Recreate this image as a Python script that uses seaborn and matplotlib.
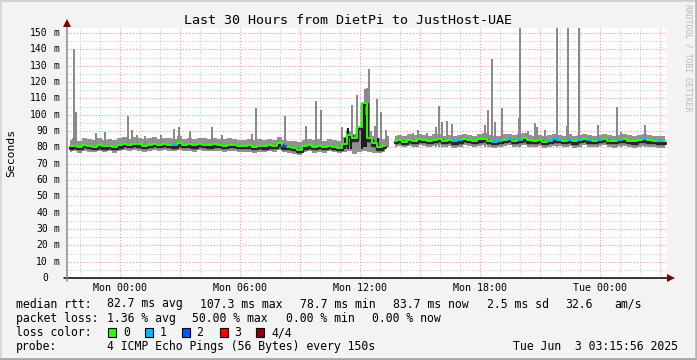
import numpy as np
import pandas as pd
import matplotlib
matplotlib.use("Agg")
import matplotlib.pyplot as plt
import matplotlib.transforms as mtransforms
from matplotlib.patches import Rectangle
from matplotlib.lines import Line2D
import seaborn as sns

# ---------------- data ----------------
title = "Last 30 Hours from DietPi to JustHost-UAE"
x_tick_hours = [0, 6, 12, 18, 24]
x_tick_labels = ["Mon 00:00", "Mon 06:00", "Mon 12:00", "Mon 18:00", "Tue 00:00"]
y_tick_values = [0, 10, 20, 30, 40, 50, 60, 70, 80, 90, 100, 110, 120, 130, 140, 150]
y_tick_numbers = ["0", "10", "20", "30", "40", "50", "60", "70", "80", "90",
                  "100", "110", "120", "130", "140", "150"]

# 15-minute bins, hours relative to Mon 00:00
bin_start = -2.65
bin_hours = 0.25
nan = float("nan")

median_ms = [
    80.6, 81.0, 80.3, 81.4, 80.8, 80.4, 81.2, 80.7, 81.0, 80.4,
    81.3, 82.0, 81.6, 82.3, 81.8, 81.1, 81.7, 82.2, 81.4, 82.0,
    81.7, 81.3, 82.4, 81.5, 81.8, 81.2, 82.0, 81.6, 81.3, 81.8,
    81.5, 81.1, 81.7, 81.4, 81.0, 80.8, 81.2, 80.5, 81.0, 80.6,
    81.3, 80.9, 82.5, 80.7, 80.2, 79.5, 78.7, 80.6, 81.2, 80.4,
    81.0, 80.2, 81.1, 80.5, 79.8, 82.0, 87.5, 85.5, 92.5, 107.3,
    85.5, 82.4, 80.0, 80.8, nan, 83.8, 84.4, 83.6, 84.8, 84.2,
    85.0, 84.5, 83.9, 84.7, 85.3, 84.1, 84.6, 83.7, 84.3, 85.1,
    84.4, 83.8, 84.9, 85.4, 84.2, 83.5, 84.0, 84.8, 85.2, 84.1,
    84.7, 85.5, 84.3, 83.9, 84.6, 83.6, 84.2, 85.0, 84.5, 84.0,
    84.8, 83.7, 84.4, 85.1, 84.3, 83.9, 84.6, 85.2, 84.1, 83.8,
    84.5, 84.9, 84.2, 83.7, 84.4, 85.0, 84.3, 83.9, 83.7, 83.7,
]
smoke_hi = [
    84.5, 85.5, 84.0, 86.0, 85.0, 84.5, 85.5, 84.8, 85.2, 84.6,
    85.8, 86.5, 85.4, 86.2, 85.6, 85.0, 85.8, 86.4, 85.2, 86.0,
    85.6, 85.2, 86.8, 85.4, 85.8, 85.0, 86.0, 85.5, 85.2, 85.8,
    85.3, 84.9, 85.6, 85.2, 84.8, 84.6, 85.2, 84.4, 85.0, 84.6,
    85.2, 84.8, 86.5, 84.5, 84.2, 83.8, 83.5, 84.6, 85.2, 84.3,
    85.0, 84.2, 85.0, 84.5, 84.0, 86.5, 90.0, 88.0, 93.0, 96.0,
    90.0, 87.0, 85.5, 85.0, nan, 86.8, 87.5, 86.8, 88.0, 87.4,
    88.2, 87.6, 87.0, 88.0, 88.5, 87.2, 87.8, 86.9, 87.5, 88.2,
    87.6, 87.0, 88.0, 88.6, 87.4, 86.8, 87.2, 88.0, 88.4, 87.3,
    87.9, 88.6, 87.5, 87.1, 87.8, 86.8, 87.4, 88.2, 87.7, 87.2,
    88.0, 86.9, 87.6, 88.3, 87.5, 87.1, 87.8, 88.4, 87.3, 87.0,
    87.7, 88.1, 87.4, 86.9, 87.6, 88.2, 87.5, 87.1, 86.9, 86.9,
]
smoke_lo = [
    77.2, 77.6, 76.8, 77.8, 77.3, 76.9, 77.6, 77.1, 77.5, 76.8,
    77.7, 78.2, 77.9, 78.4, 78.0, 77.4, 77.9, 78.3, 77.6, 78.1,
    77.8, 77.5, 78.5, 77.7, 78.0, 77.4, 78.2, 77.8, 77.5, 78.0,
    77.7, 77.3, 77.9, 77.6, 77.2, 77.0, 77.4, 76.8, 77.3, 76.9,
    77.6, 77.2, 78.4, 77.0, 76.6, 76.0, 75.6, 77.0, 77.5, 76.8,
    77.4, 76.6, 77.5, 76.9, 76.3, 77.0, 77.5, 76.0, 77.2, 77.5,
    77.0, 76.8, 76.5, 77.2, nan, 80.2, 80.8, 80.0, 81.0, 80.4,
    81.2, 80.7, 80.1, 80.9, 81.4, 80.2, 80.8, 79.9, 80.5, 81.2,
    80.6, 80.0, 81.0, 81.5, 80.4, 79.7, 80.2, 80.9, 81.3, 80.3,
    80.8, 81.5, 80.5, 80.0, 80.7, 79.8, 80.4, 81.1, 80.6, 80.1,
    80.9, 79.8, 80.5, 81.2, 80.4, 80.0, 80.7, 81.3, 80.2, 79.9,
    80.6, 81.0, 80.3, 79.8, 80.5, 81.1, 80.4, 80.0, 79.8, 79.8,
]
loss_count = [
    0, 0, 0, 0, 0, 0, 0, 0, 0, 0,
    0, 0, 0, 0, 0, 0, 0, 0, 0, 0,
    0, 1, 0, 0, 0, 0, 0, 0, 0, 0,
    0, 0, 0, 0, 0, 0, 0, 0, 0, 0,
    0, 0, 0, 2, 0, 0, 0, 0, 0, 0,
    0, 0, 0, 0, 0, 0, 0, 0, 0, 0,
    0, 0, 0, 0, 0, 0, 0, 0, 0, 0,
    0, 0, 0, 0, 0, 0, 0, 1, 1, 0,
    0, 0, 0, 0, 0, 1, 1, 0, 1, 0,
    1, 0, 0, 0, 0, 0, 1, 1, 1, 0,
    1, 0, 1, 0, 1, 0, 1, 0, 0, 0,
    1, 0, 0, 0, 0, 1, 0, 0, 1, 0,
]

# thin smoke spikes (max ping of a sample): hour, top in ms
spike_hour = [-2.325, -2.225, -1.225, -0.735, 0.415, 0.575, 0.835, 1.25, 1.65, 2.035,
              2.685, 2.95, 3.515, 4.585, 5.085, 6.585, 6.785, 8.265, 9.275, 9.775,
              10.035, 11.085, 11.335, 11.415, 11.585, 11.835, 12.085, 12.25, 12.335, 12.425,
              12.75, 12.835, 13.035, 13.285, 13.415, 14.665, 14.915, 15.335, 15.785, 15.95,
              16.115, 16.365, 16.575, 17.085, 18.25, 18.415, 18.585, 18.75, 19.085, 19.95,
              20.0, 20.385, 20.75, 20.835, 21.25, 21.835, 22.335, 22.415, 22.925, 23.915,
              24.835, 25.05, 26.225]
spike_top = [140.2, 101.5, 88.8, 89.6, 99.2, 90.6, 87.6, 87.0, 86.5, 87.6,
             91.2, 92.5, 90.0, 92.5, 87.6, 88.2, 104.3, 99.2, 93.2, 108.4,
             102.9, 92.6, 90.6, 92.0, 106.0, 112.0, 101.6, 116.0, 116.5, 128.2,
             93.3, 109.6, 101.6, 90.6, 87.0, 88.6, 90.6, 88.6, 92.7, 105.4,
             95.8, 96.2, 94.5, 87.6, 93.7, 102.6, 134.2, 95.3, 104.3, 98.0,
             160.0, 90.0, 94.7, 92.3, 90.6, 160.0, 93.0, 160.0, 160.0, 93.7,
             104.9, 89.2, 93.5]

# dark (dense) smoke near noon
dark_hour = [11.25, 11.415, 11.55, 12.085, 12.215, 12.3, 12.9]
dark_low = [79.0, 79.0, 79.0, 79.0, 80.0, 80.0, 79.0]
dark_top = [86.0, 91.6, 88.0, 92.7, 107.0, 100.0, 86.0]

stats_rows = [
    ["median rtt:", "82.7 ms avg", "107.3 ms max", "78.7 ms min", "83.7 ms now", "2.5 ms sd", "32.6", "am/s"],
    ["packet loss:", "1.36 % avg", "50.00 % max", "0.00 % min", "0.00 % now"],
]
loss_labels = ["0", "1", "2", "3", "4/4"]
loss_colors = ["#26ff00", "#00b8ff", "#0059ff", "#ff0000", "#8f0000"]
probe_text = "4 ICMP Echo Pings (56 Bytes) every 150s"
stamp_text = "Tue Jun  3 03:15:56 2025"

# ---------------- figure ----------------
sns.set_theme(style="white")
plt.rcParams["font.family"] = ["DejaVu Sans Mono", "DejaVu Sans"]

W, H = 697, 360
BG = "#f3f3f3"
fig = plt.figure(figsize=(W / 100, H / 100), dpi=100, facecolor=BG)


def fx(x):
    return x / W


def fy(y):
    return 1 - y / H


L, R, T, B = 67, 667, 27.7, 278
ax = fig.add_axes([fx(L), fy(B), (R - L) / W, (B - T) / H])
ax.set_facecolor("white")
XMIN, XMAX = -2.65, 27.35
YMAX = 153.3
ax.set_xlim(XMIN, XMAX)
ax.set_ylim(0, YMAX)
for s in ax.spines.values():
    s.set_visible(False)

# grid
minor_c = "#cfcfcf"
major_c = "#ffa3a3"
dash = (0, (1.2, 1.6))
for h in range(-2, 28):
    major = (h % 3 == 0)
    ax.axvline(h, color=major_c if major else minor_c, lw=0.8, ls=dash, zorder=1 if major else 0.5)
for v in range(5, 155, 5):
    major = (v % 10 == 0)
    ax.axhline(v, color=major_c if major else minor_c, lw=0.8, ls=dash, zorder=1 if major else 0.5)

# smoke
n = len(median_ms)
t_center = bin_start + bin_hours * (np.arange(n) + 0.5)
lo = np.array(smoke_lo, dtype=float)
hi = np.array(smoke_hi, dtype=float)
ax.fill_between(t_center, lo, hi, step="mid", color="#929292", linewidth=0, zorder=2)
ax.bar(spike_hour, np.array(spike_top) - 80, bottom=80, width=0.1, color="#8a8a8a",
       linewidth=0, zorder=2)
ax.bar(dark_hour, np.array(dark_top) - np.array(dark_low), bottom=dark_low, width=0.1,
       color="#1e1e1e", linewidth=0, zorder=3)

# median
med = np.array(median_ms, dtype=float)
seg = np.cumsum(np.isnan(med))
df = pd.DataFrame({"t": t_center, "median": med, "seg": seg}).dropna()
shift = mtransforms.ScaledTranslation(0, -1.3 / 100, fig.dpi_scale_trans)
sns.lineplot(data=df, x="t", y="median", units="seg", estimator=None, color="#262626",
             lw=2.5, drawstyle="steps-mid", ax=ax, legend=False, zorder=4,
             transform=ax.transData + shift)
sns.lineplot(data=df, x="t", y="median", units="seg", estimator=None, color=loss_colors[0],
             lw=1.4, drawstyle="steps-mid", ax=ax, legend=False, zorder=5)
for i, lc in enumerate(loss_count):
    if lc > 0 and not np.isnan(med[i]):
        t0 = bin_start + bin_hours * i
        ax.hlines(med[i], t0, t0 + bin_hours, color=loss_colors[lc], lw=1.6, zorder=6)

ax.set_xlabel("")
ax.set_ylabel("")

# ticks (marks only)
ax.set_xticks(list(range(0, 28, 3)))
ax.set_xticklabels([])
ax.set_yticks(y_tick_values)
ax.set_yticklabels([])
ax.tick_params(axis="x", length=2, width=0.8, color="black", direction="out", pad=0)
ax.tick_params(axis="y", length=2, width=0.8, color="#808080", direction="out", pad=0)


def ay(ypx):
    return (B - ypx) / (B - T)


def ax_x(xpx):
    return (xpx - L) / (R - L)


# tick labels
xt = ax.get_xaxis_transform()
for h, lab in zip(x_tick_hours, x_tick_labels):
    ax.text(h, ay(291), lab, transform=xt, ha="center", va="baseline", fontsize=7.2,
            color="black", clip_on=False)
yt = ax.get_yaxis_transform()
for v, lab in zip(y_tick_values, y_tick_numbers):
    ax.text(ax_x(47.8), v, lab, transform=yt, ha="right", va="center", fontsize=7.0,
            color="black", clip_on=False)
    if v > 0:
        ax.text(ax_x(53.3), v, "m", transform=yt, ha="left", va="center", fontsize=7.0,
                color="black", clip_on=False)

# axis lines with arrows
fig.add_artist(Line2D([fx(64), fx(669)], [fy(278), fy(278)], color="black", lw=1.1))
fig.add_artist(Line2D([fx(67), fx(67)], [fy(281), fy(24)], color="#8a8a8a", lw=1.1))
fig.add_artist(Line2D([fx(671)], [fy(278)], marker=">", markersize=5.2, color="#7a0000",
                      markeredgewidth=0))
fig.add_artist(Line2D([fx(67)], [fy(22.5)], marker="^", markersize=5.2, color="#7a0000",
                      markeredgewidth=0))

# texts
fig.text(fx(348), fy(24), title, ha="center", va="baseline", fontsize=9.6, color="black")
fig.text(fx(11), fy(152.9), "Seconds", rotation=90, ha="center", va="center", fontsize=8.2,
         color="black")
fig.text(fx(688), fy(4.5), "RRDTOOL / TOBI OETIKER", rotation=270, ha="center", va="top",
         fontsize=5.9, color="#b8b8b8")

LFS = 8.3
row1_x = [16, 107, 200, 300, 393, 487, 565, 614]
row2_x = [16, 107, 192, 286, 372]
for txt, x in zip(stats_rows[0], row1_x):
    fig.text(fx(x), fy(307.5), txt, ha="left", va="baseline", fontsize=LFS, color="black")
for txt, x in zip(stats_rows[1], row2_x):
    fig.text(fx(x), fy(321.7), txt, ha="left", va="baseline", fontsize=LFS, color="black")
fig.text(fx(16), fy(336), "loss color:", ha="left", va="baseline", fontsize=LFS, color="black")
box_x = [108.4, 145.3, 182.0, 219.6, 256.4]
for bx, lab, col in zip(box_x, loss_labels, loss_colors):
    fig.add_artist(Rectangle((fx(bx), fy(336.7)), 8 / W, 9 / H, transform=fig.transFigure,
                             facecolor=col, edgecolor="black", lw=0.8))
    fig.text(fx(bx + 14.6), fy(336), lab, ha="left", va="baseline", fontsize=LFS, color="black")
fig.text(fx(16), fy(350), "probe:", ha="left", va="baseline", fontsize=LFS, color="black")
fig.text(fx(107), fy(350), probe_text, ha="left", va="baseline", fontsize=LFS, color="black")
fig.text(fx(513), fy(350), stamp_text, ha="left", va="baseline", fontsize=LFS, color="black")

# frame
fig.add_artist(Line2D([0, 1], [fy(0.8), fy(0.8)], color="#d2d2d2", lw=1.4))
fig.add_artist(Line2D([fx(0.8), fx(0.8)], [0, 1], color="#d8d8d8", lw=1.4))
fig.add_artist(Line2D([0, 1], [fy(358.8), fy(358.8)], color="#a5a5a5", lw=1.9))
fig.add_artist(Line2D([fx(695.8), fx(695.8)], [0, 1], color="#b5b5b5", lw=1.9))

fig.savefig("out.png", dpi=100, facecolor=BG)
